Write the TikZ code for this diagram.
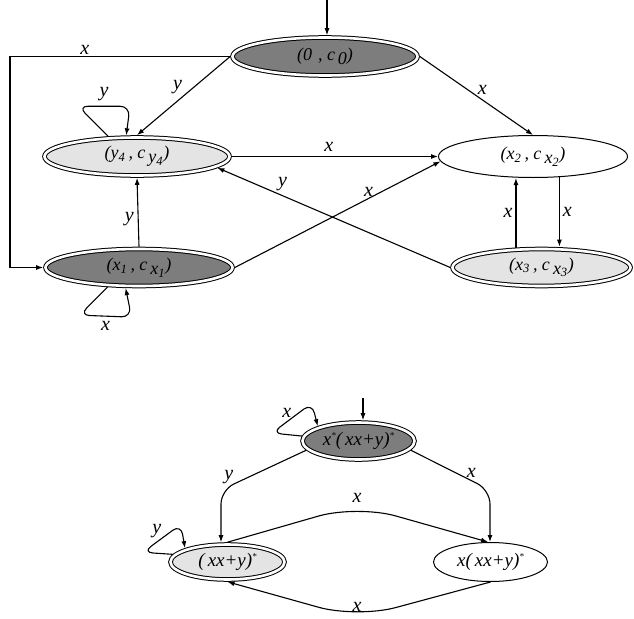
\documentclass[tikz,border=0pt]{standalone}
\usepackage{fontspec}
\setmainfont{Liberation Serif}
\usetikzlibrary{shapes.geometric,arrows.meta,calc}
\definecolor{darkst}{RGB}{125,125,125}
\definecolor{lightst}{RGB}{228,228,228}
\newcommand{\tinystar}{\raisebox{7pt}{\fontsize{9}{9}\selectfont *}}
\begin{document}
\begin{tikzpicture}[x=1pt,y=-1pt,
  st/.style={ellipse, draw, line width=1pt, inner sep=0pt, font=\fontsize{18}{20}\selectfont\itshape},
  stb/.style={st, font=\fontsize{19}{21}\selectfont\itshape},
  dbl/.style={double=white, double distance=2.6pt, outer sep=2.3pt},
  ed/.style={line width=1.1pt, -{Latex[length=7pt,width=5pt]}},
  lbl/.style={font=\fontsize{20}{21}\selectfont\itshape, inner sep=1pt}]
\useasboundingbox (0,0) rectangle (634,618);

% ---------- upper automaton ----------
\node[st, dbl, fill=darkst, minimum width=185pt, minimum height=38pt] (q0) at (325,56.5) {(0\,\,, c\,\raisebox{-4pt}{0})};
\node[st, dbl, fill=lightst, minimum width=185pt, minimum height=38pt] (y4) at (137,156.5) {(y\textsubscript{4}\,, c\,\raisebox{-4pt}{y\textsubscript{4}})};
\node[st, dbl, fill=darkst, minimum width=187pt, minimum height=37pt] (x1) at (139,267.5) {(x\textsubscript{1}\,, c\,\raisebox{-4pt}{x\textsubscript{1}})};
\node[st, fill=white, minimum width=189pt, minimum height=42pt] (x2) at (533,156.5) {(x\textsubscript{2}\,, c\,\raisebox{-4pt}{x\textsubscript{2}})};
\node[st, dbl, fill=lightst, minimum width=178pt, minimum height=37pt] (x3) at (541.5,267.5) {(x\textsubscript{3}\,, c\,\raisebox{-4pt}{x\textsubscript{3}})};

\coordinate (i0) at (327,0);
\coordinate (lc) at (10,56.5);
\draw[ed] (i0) -- (i0 |- q0.north);
\draw[ed] (q0.west) -- node[lbl, pos=0.66, above]{x} (lc) |- (x1.west);
\draw[ed] (q0.west) -- node[lbl, pos=0.5, above left]{y} (y4.north);
\draw[ed] (q0.east) -- node[lbl, pos=0.5, above right]{x} (x2.north);
\draw[ed] (y4.east) -- node[lbl, pos=0.47, above=3pt]{x} (x2.west);
\draw[ed] (x1.east) -- node[lbl, pos=0.65, above]{x} (x2.183);
\draw[ed] (x1.north) -- node[lbl, pos=0.4, left=3pt]{y} (y4.south);
\draw[ed] (x3.west) -- node[lbl, pos=0.72, above=3pt]{y} (y4.-8);
\draw[ed] (x3.142) -- node[lbl, left=2pt]{x} (x3.142 |- x2.south);
\draw[ed] (x2.-38.5) -- node[lbl, right=2pt]{x} (x2.-38.5 |- x3.north);
\draw[ed, rounded corners=10pt] (y4.145) -- ++(-30,-30) -- node[lbl, above=4pt]{y} ++(52,0) -- (y4.117);
\draw[ed, rounded corners=10pt] (x1.-148) -- ++(-28,28) -- node[lbl, below=4pt]{x} ++(52,2) -- (x1.-123);

% ---------- lower automaton ----------
\node[stb, dbl, fill=darkst, minimum width=112pt, minimum height=37pt] (T) at (358.5,441) {x\tinystar(\,xx+y)\tinystar};
\node[stb, dbl, fill=lightst, minimum width=114pt, minimum height=35pt] (A) at (227.5,562) {(\,xx+y)\tinystar};
\node[stb, fill=white, minimum width=114pt, minimum height=39pt] (B) at (490.5,562) {x(\,xx+y)\tinystar};

\coordinate (i1) at (363,398);
\coordinate (ky) at (221,490);
\coordinate (kx) at (490,490);
\coordinate (pk) at (357,505);
\coordinate (pb) at (357,618);
\draw[ed] (i1) -- (i1 |- T.north);
\draw[ed, rounded corners=10pt] (T.175) -- ++(-30,-3) -- node[lbl, above left=-1pt]{x} ++(40,-30) -- (T.160);
\draw[ed, rounded corners=14pt] (T.190) -- node[lbl, pos=0.85, above left=-1pt]{y} (ky) -- (ky |- A.north);
\draw[ed, rounded corners=14pt] (T.-10) -- node[lbl, pos=0.7, above right=-1pt]{x} (kx) -- (kx |- B.north);
\draw[ed, rounded corners=40pt] (A.north) -- (pk) -- (B.97);
\node[lbl, above=1pt] at (pk) {x};
\draw[ed, rounded corners=40pt] (B.south) -- (pb) -- (A.south);
\node[lbl, above=5pt] at (pb) {x};
\draw[ed, rounded corners=10pt] (A.172) -- ++(-30,-2) -- node[lbl, above left=-1pt]{y} ++(38,-28) -- (A.162);
\end{tikzpicture}
\end{document}
